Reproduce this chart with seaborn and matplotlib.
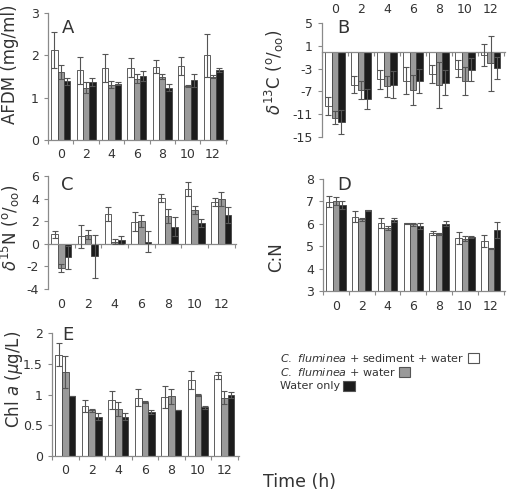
import numpy as np
import pandas as pd
import seaborn as sns
import matplotlib.pyplot as plt
import matplotlib.transforms as mtransforms
from matplotlib.ticker import FixedLocator
from matplotlib.patches import Patch

times = ["0", "2", "4", "6", "8", "10", "12"]
groups = [r"$\it{C.\ fluminea}$ + sediment + water", r"$\it{C.\ fluminea}$ + water", "Water only"]
colors = ["white", "#9a9a9a", "#1c1c1c"]

# A - AFDM
afdm_sed = [2.12, 1.65, 1.70, 1.71, 1.73, 1.74, 2.00]
afdm_sed_err = [0.42, 0.32, 0.33, 0.23, 0.15, 0.21, 0.50]
afdm_wat = [1.60, 1.24, 1.31, 1.45, 1.49, 1.28, 1.50]
afdm_wat_err = [0.17, 0.12, 0.09, 0.10, 0.06, 0.03, 0.04]
afdm_only = [1.39, 1.37, 1.33, 1.51, 1.24, 1.41, 1.65]
afdm_only_err = [0.08, 0.10, 0.03, 0.12, 0.08, 0.15, 0.05]

# B - d13C
c13_sed = [-9.6, -5.8, -4.9, -5.1, -3.9, -3.0, -0.6]
c13_sed_err = [1.6, 1.5, 1.6, 2.3, 1.6, 1.5, 2.0]
c13_wat = [-11.6, -6.8, -6.1, -6.8, -5.9, -5.2, -2.1]
c13_wat_err = [1.2, 1.6, 1.8, 2.6, 4.0, 2.4, 4.8]
c13_only = [-12.4, -8.3, -5.8, -5.1, -5.5, -3.2, -2.9]
c13_only_err = [2.1, 1.7, 2.4, 2.1, 2.2, 2.0, 1.9]

# C - d15N
n15_sed = [0.85, 0.65, 2.62, 1.97, 4.03, 4.85, 3.70]
n15_sed_err = [0.3, 1.0, 0.64, 0.8, 0.35, 0.6, 0.33]
n15_wat = [-2.15, 0.8, 0.2, 2.03, 2.47, 3.0, 3.94]
n15_wat_err = [0.35, 0.4, 0.25, 0.5, 0.6, 0.32, 0.6]
n15_only = [-1.2, -1.12, 0.3, 0.18, 1.53, 1.82, 2.56]
n15_only_err = [1.0, 1.9, 0.35, 0.94, 0.8, 0.35, 0.73]

# D - C:N
cn_sed = [6.99, 6.31, 6.04, 6.02, 5.60, 5.37, 5.22]
cn_sed_err = [0.25, 0.25, 0.24, 0.02, 0.10, 0.27, 0.27]
cn_wat = [7.03, 6.21, 5.82, 5.97, 5.54, 5.34, 4.89]
cn_wat_err = [0.18, 0.07, 0.09, 0.05, 0.06, 0.10, 0.02]
cn_only = [6.84, 6.61, 6.16, 5.90, 6.01, 5.42, 5.72]
cn_only_err = [0.20, 0.02, 0.10, 0.15, 0.10, 0.04, 0.37]

# E - Chl a
chl_sed = [1.65, 0.81, 0.91, 0.95, 0.96, 1.24, 1.31]
chl_sed_err = [0.18, 0.10, 0.15, 0.14, 0.18, 0.15, 0.06]
chl_wat = [1.37, 0.74, 0.76, 0.88, 0.97, 0.99, 0.95]
chl_wat_err = [0.26, 0.02, 0.11, 0.02, 0.12, 0.02, 0.11]
chl_only = [0.97, 0.64, 0.64, 0.72, 0.75, 0.79, 0.99]
chl_only_err = [0.0, 0.06, 0.06, 0.03, 0.0, 0.02, 0.05]

sns.set_style("ticks")
plt.rcParams['font.family'] = ['DejaVu Sans']
plt.rcParams['mathtext.fontset'] = 'dejavusans'

AX_COL = "#8a8a8a"
TXT_COL = "#333333"


def panel(fig, rect, vals, errs, ylim, yticks, ylabel, letter, letter_pos, label_pos):
    ax = fig.add_axes(rect)
    df = pd.DataFrame({
        "time": times * 3,
        "group": np.repeat(groups, len(times)),
        "value": np.concatenate(vals),
    })
    sns.barplot(data=df, x="time", y="value", hue="group", hue_order=groups,
                palette=colors, order=times, errorbar=None, width=0.75,
                edgecolor="#444444", linewidth=0.6, legend=False, ax=ax)
    for cont, err in zip(ax.containers, errs):
        xs = [b.get_x() + b.get_width() / 2 for b in cont]
        ys = [b.get_y() + b.get_height() for b in cont]
        ax.errorbar(xs, ys, yerr=err, fmt="none", ecolor="#555555",
                    elinewidth=0.8, capsize=2.0, capthick=0.8, zorder=3)
    ax.set_ylim(*ylim)
    ax.set_xlim(-0.5, 6.55)
    ax.set_yticks(yticks)
    ax.set_yticklabels([f"{t:g}" for t in yticks])
    ax.xaxis.set_minor_locator(FixedLocator(np.arange(-0.5, 7, 1)))
    ax.tick_params(axis="x", which="major", length=0, labelsize=9, labelcolor=TXT_COL,
                   pad=6, labelbottom=True)
    ax.tick_params(axis="x", which="minor", length=3, color=AX_COL, width=0.8)
    ax.tick_params(axis="y", length=3, color=AX_COL, width=0.8, labelsize=9, labelcolor=TXT_COL)
    sns.despine(ax=ax)
    for s in ["left", "bottom"]:
        ax.spines[s].set_color(AX_COL)
        ax.spines[s].set_linewidth(0.9)
    ax.set_xlabel("")
    ax.set_ylabel(ylabel, fontsize=12, color=TXT_COL, va="center")
    ax.yaxis.set_label_coords(*label_pos)
    ax.text(letter_pos[0], letter_pos[1], letter, transform=ax.transAxes,
            fontsize=13, color=TXT_COL, va="center", ha="center")
    return ax


fig = plt.figure(figsize=(5.10, 4.91), dpi=100)

W, H = 510.0, 491.0


def rect(x0, x1, y0, y1):
    return [x0 / W, 1 - y1 / H, (x1 - x0) / W, (y1 - y0) / H]


axA = panel(fig, rect(48, 227, 13, 140),
            [afdm_sed, afdm_wat, afdm_only], [afdm_sed_err, afdm_wat_err, afdm_only_err],
            (0, 3), [0, 1, 2, 3], "AFDM (mg/ml)", "A", (0.11, 0.88), (-0.21, 0.6))

axB = panel(fig, rect(322, 505, 23, 137),
            [c13_sed, c13_wat, c13_only], [c13_sed_err, c13_wat_err, c13_only_err],
            (-15, 5), [5, 1, -3, -7, -11, -15],
            r"$\delta^{13}$C ($^{\rm o}/_{\rm oo}$)", "B", (0.115, 0.955), (-0.26, 0.57))
axB.spines["bottom"].set_position(("data", 0))
axB.tick_params(axis="x", which="major", labelbottom=False, labeltop=True, pad=5)

axC = panel(fig, rect(48, 236, 176, 289),
            [n15_sed, n15_wat, n15_only], [n15_sed_err, n15_wat_err, n15_only_err],
            (-4, 6), [-4, -2, 0, 2, 4, 6],
            r"$\delta^{15}$N ($^{\rm o}/_{\rm oo}$)", "C", (0.1, 0.92), (-0.2, 0.54))
axC.spines["bottom"].set_position(("data", 0))
axC.tick_params(axis="x", which="major", pad=39)

axD = panel(fig, rect(323, 505, 179, 291),
            [cn_sed, cn_wat, cn_only], [cn_sed_err, cn_wat_err, cn_only_err],
            (3, 8), [3, 4, 5, 6, 7, 8], "C:N", "D", (0.115, 0.945), (-0.26, 0.30))
# time labels for D written at figure level
axD.tick_params(axis="x", which="major", labelbottom=False)
trD = mtransforms.blended_transform_factory(axD.transData, fig.transFigure)
for i, t in enumerate(times):
    fig.text(i, 1 - 306 / H, t, transform=trD, fontsize=9, color=TXT_COL,
             ha="center", va="center")

axE = panel(fig, rect(52, 239, 333, 456),
            [chl_sed, chl_wat, chl_only], [chl_sed_err, chl_wat_err, chl_only_err],
            (0, 2), [0, 0.5, 1, 1.5, 2],
            r"Chl $\it{a}$ ($\mu$g/L)", "E", (0.086, 0.98), (-0.205, 0.62))

# one legend per line so each box sits right after its own text
line_y = [358, 372, 386]
for grp, col, ly in zip(groups, colors, line_y):
    fig.legend([Patch(facecolor=col, edgecolor="#555555", linewidth=0.8)], [grp],
               loc="center left", bbox_to_anchor=(280 / W, 1 - ly / H),
               frameon=False, markerfirst=False, fontsize=8, handlelength=1.0,
               handleheight=1.0, handletextpad=0.3, borderpad=0, borderaxespad=0,
               labelcolor=TXT_COL)

fig.text(263 / W, 1 - 482 / H, "Time (h)", fontsize=12.5, color=TXT_COL, ha="left", va="center")

fig.savefig("out.png", dpi=100)
